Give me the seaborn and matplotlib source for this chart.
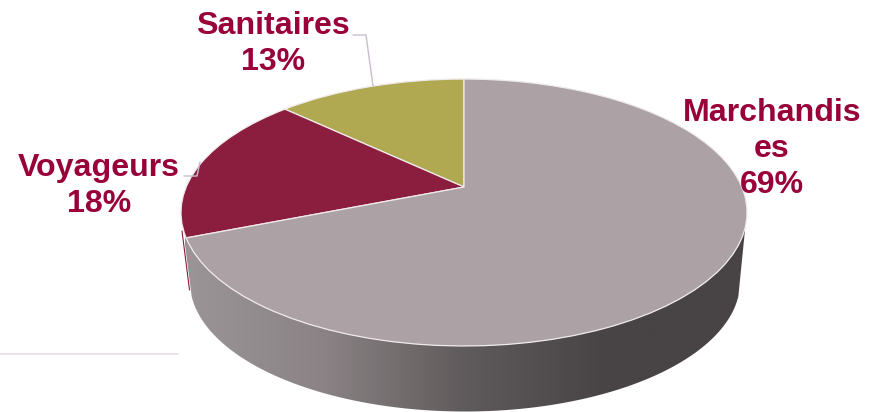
"""
Camembert 3D en perspective : repartition Marchandises / Voyageurs / Sanitaires
"""

import numpy as np
import matplotlib
matplotlib.use('Agg')
import matplotlib.pyplot as plt
import seaborn as sns
from matplotlib.colors import LinearSegmentedColormap
from matplotlib.patches import Polygon
from matplotlib.transforms import Transform

# Donnees
categories = ['Sanitaires', 'Voyageurs', 'Marchandises']
valeurs = [13, 18, 69]
labels_affiches = ['Sanitaires\n13%', 'Voyageurs\n18%', 'Marchandis\nes\n69%']
couleurs = ['#b0a951', '#8b1e3f', '#aca2a5']
couleur_texte = '#99003a'

sns.set_theme(style='white')
plt.rcParams['font.family'] = ['Liberation Sans', 'DejaVu Sans']


class Perspective(Transform):
    """Projette le cercle unite du camembert vers les pixels de la figure"""
    input_dims = 2
    output_dims = 2

    def __init__(self, cx, cy, a, b, k):
        super().__init__()
        self.cx, self.cy, self.a, self.b, self.k = cx, cy, a, b, k

    def transform_non_affine(self, values):
        values = np.asarray(values)
        d = 1 + self.k * values[:, 1]
        return np.column_stack([self.cx + self.a * values[:, 0] / d,
                                self.cy - self.b * values[:, 1] / d])

    def transform_path_non_affine(self, path):
        return type(path)(self.transform_non_affine(path.vertices), path.codes)


haut = Perspective(464, 187, 277.8, 128.6, 0.191)
bas = Perspective(465, 257, 270, 125, 0.191)

fig = plt.figure(figsize=(8.8, 4.12), dpi=100)
ax = fig.add_axes([0, 0, 1, 1])

wedges, _ = ax.pie(valeurs, colors=sns.color_palette(couleurs), startangle=90,
                   counterclock=True, wedgeprops=dict(edgecolor='#efeaec', linewidth=0.9))
ax.set_aspect('auto')
ax.axis('off')

for w in wedges:
    w.set_transform(haut + ax.transData)
    w.set_zorder(3)

# Flanc du camembert : bord avant du haut + bord avant du bas, degrade gris
t = np.linspace(np.pi + 0.30, 2 * np.pi - 0.30, 200)
cercle = np.column_stack([np.cos(t), np.sin(t)])
bord_haut = haut.transform_non_affine(cercle)
bord_bas = bas.transform_non_affine(cercle)
flanc = Polygon(np.vstack([bord_haut, bord_bas[::-1]]), closed=True, transform=ax.transData,
                facecolor='none', edgecolor='none')
ax.add_patch(flanc)
degrade = LinearSegmentedColormap.from_list('flanc', ['#9b9597', '#8a8284', '#5f5a5b', '#484344', '#484344'])
img = ax.imshow(np.linspace(0, 1, 256).reshape(1, -1), cmap=degrade, aspect='auto',
                extent=(185, 747, 412, 210), zorder=2)
img.set_clip_path(flanc)
ax.set_xlim(0, 880)
ax.set_ylim(412, 0)

# Filet rouge du flanc de Voyageurs
ax.plot([182, 189.5], [231, 290], color=couleurs[1], lw=0.8, zorder=2)

# Trait gris en bas a gauche
ax.plot([0, 178], [354, 354], color='#e8e1e8', lw=1.3, zorder=1)

# Lignes de rappel
ax.plot([353, 366, 373], [35, 35, 86], color='#c9bdcd', lw=1, zorder=4)
ax.plot([184, 197, 200], [176, 176, 162], color='#c9bdcd', lw=1, zorder=4)

# Etiquettes
positions = [(273, 44), (99, 186), (772, 149)]
for label, (x, y) in zip(labels_affiches, positions):
    ax.text(x, y, label, color=couleur_texte, fontsize=23.1, fontweight='bold',
            ha='center', va='center', linespacing=1.24, zorder=5)

plt.savefig('out.png', dpi=100)
